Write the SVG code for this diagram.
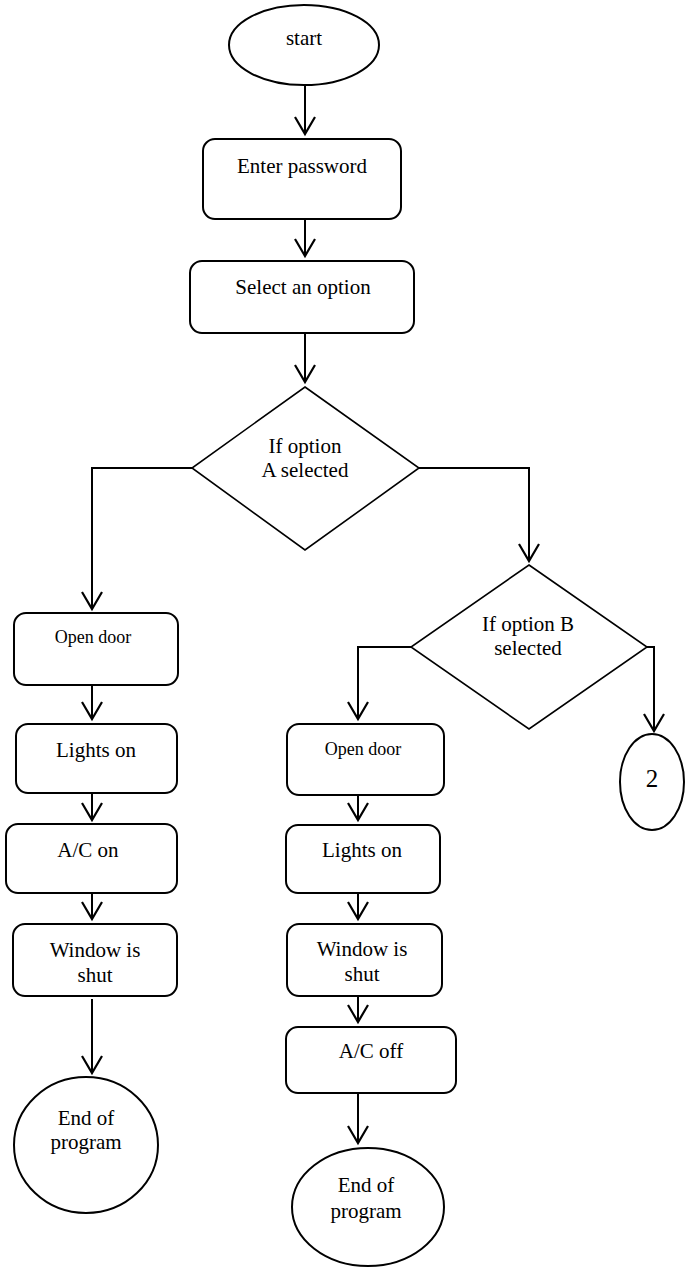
<svg xmlns="http://www.w3.org/2000/svg" width="685" height="1272" viewBox="0 0 685 1272">
<style>
.s{fill:#fff;stroke:#000;stroke-width:2}
.d{fill:#fff;stroke:#000;stroke-width:1.6}
.t{font-family:"Liberation Serif","Times New Roman",serif;font-size:21px;fill:#000;text-anchor:middle}
.sm{font-size:18px}
.c{fill:none;stroke:#000;stroke-width:2;marker-end:url(#ah)}
</style>
<defs>
<marker id="ah" markerUnits="userSpaceOnUse" viewBox="-19 -12 21 24" refX="0" refY="0" markerWidth="21" markerHeight="24" orient="auto" overflow="visible">
<path d="M-17,-10 L0,0 L-17,10" fill="none" stroke="#000" stroke-width="2.2"/>
</marker>
</defs>
<rect width="685" height="1272" fill="#fff"/>
<g id="connectors">
<path class="c" d="M305,86 V134"/>
<path class="c" d="M305,219 V256"/>
<path class="c" d="M305,333 V382"/>
<path class="c" d="M192,468 H92 V609"/>
<path class="c" d="M419,468 H529 V561"/>
<path class="c" d="M92,685 V719"/>
<path class="c" d="M92,793 V820"/>
<path class="c" d="M92,893 V919"/>
<path class="c" d="M92,999 V1073"/>
<path class="c" d="M411,647 H358 V719"/>
<path class="c" d="M647,647 H654 V731"/>
<path class="c" d="M358,795 V820"/>
<path class="c" d="M358,893 V919"/>
<path class="c" d="M358,996 V1022"/>
<path class="c" d="M358,1093 V1143"/>
</g>
<g id="start">
<ellipse class="s" cx="304" cy="45" rx="75" ry="40"/>
<text class="t" x="304" y="45">start</text>
</g>
<g id="enter-password">
<rect class="s" x="203" y="139" width="198" height="80" rx="12"/>
<text class="t" x="302" y="173">Enter password</text>
</g>
<g id="select-option">
<rect class="s" x="190" y="261" width="224" height="72" rx="12"/>
<text class="t" x="303" y="294">Select an option</text>
</g>
<g id="decision-a">
<polygon class="d" points="305,387 419,468 305,550 192,468"/>
<text class="t" x="305" y="453">If option</text>
<text class="t" x="305" y="477">A selected</text>
</g>
<g id="open-door-a">
<rect class="s" x="14" y="613" width="164" height="72" rx="12"/>
<text class="t sm" x="93" y="643">Open door</text>
</g>
<g id="lights-on-a">
<rect class="s" x="16" y="724" width="161" height="69" rx="12"/>
<text class="t" x="96" y="757">Lights on</text>
</g>
<g id="ac-on-a">
<rect class="s" x="6" y="824" width="171" height="69" rx="12"/>
<text class="t" x="88" y="857">A/C on</text>
</g>
<g id="window-a">
<rect class="s" x="13" y="924" width="164" height="72" rx="12"/>
<text class="t" x="95" y="957">Window is</text>
<text class="t" x="95" y="982">shut</text>
</g>
<g id="end-a">
<ellipse class="s" cx="86" cy="1145" rx="72" ry="68"/>
<text class="t" x="86" y="1125">End of</text>
<text class="t" x="86" y="1149">program</text>
</g>
<g id="decision-b">
<polygon class="d" points="529,565 647,647 529,729 411,647"/>
<text class="t" x="528" y="631">If option B</text>
<text class="t" x="528" y="655">selected</text>
</g>
<g id="connector-2">
<ellipse class="s" cx="652" cy="782" rx="32" ry="48"/>
<text class="t" x="652" y="787" style="font-size:25px">2</text>
</g>
<g id="open-door-b">
<rect class="s" x="287" y="724" width="157" height="71" rx="12"/>
<text class="t sm" x="363" y="755">Open door</text>
</g>
<g id="lights-on-b">
<rect class="s" x="286" y="825" width="154" height="68" rx="12"/>
<text class="t" x="362" y="857">Lights on</text>
</g>
<g id="window-b">
<rect class="s" x="287" y="924" width="155" height="72" rx="12"/>
<text class="t" x="362" y="956">Window is</text>
<text class="t" x="362" y="981">shut</text>
</g>
<g id="ac-off-b">
<rect class="s" x="286" y="1027" width="170" height="66" rx="12"/>
<text class="t" x="371" y="1058">A/C off</text>
</g>
<g id="end-b">
<ellipse class="s" cx="368" cy="1207" rx="76" ry="59"/>
<text class="t" x="366" y="1192">End of</text>
<text class="t" x="366" y="1218">program</text>
</g>
</svg>
